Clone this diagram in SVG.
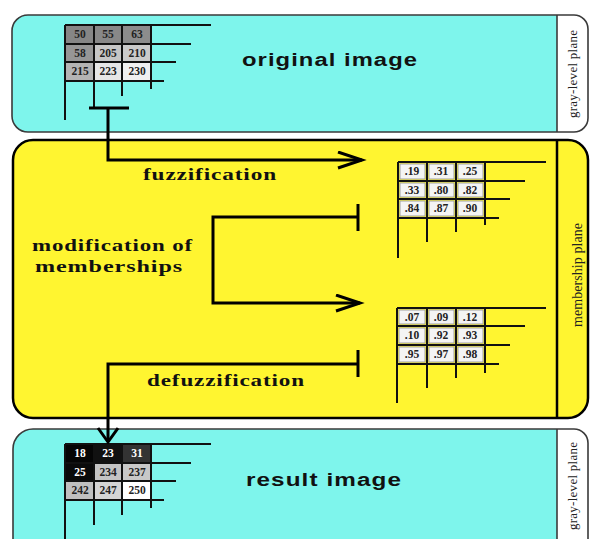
<svg xmlns="http://www.w3.org/2000/svg" width="591" height="539" viewBox="0 0 591 539">
<style>
.cyan{fill:#7ef5ec}
.tab{fill:#ffffff}
.yel{fill:#fff530}
.border{fill:none;stroke:#3a3a3a;stroke-width:1.6}
.gl{stroke:#111;stroke-width:2;fill:none}
.conn{stroke:#000;stroke-width:3;fill:none}
.title{font-family:"Liberation Sans",Arial,sans-serif;font-weight:bold;font-size:18px;letter-spacing:0.8px;fill:#111}
.lab{font-family:"Liberation Serif","Times New Roman",serif;font-weight:bold;font-size:16px;letter-spacing:0.6px;fill:#111}
.side{font-family:"Liberation Serif","Times New Roman",serif;font-size:13px;fill:#222}
.num{font-family:"Liberation Serif","Times New Roman",serif;font-weight:bold;font-size:11.5px;fill:#222;text-anchor:middle}
.numw{font-family:"Liberation Serif","Times New Roman",serif;font-weight:bold;font-size:11.5px;fill:#fff;text-anchor:middle}
.mc{fill:#f4f4f4;stroke:#a0a0a0;stroke-width:1}
</style>
<defs>
<marker id="chev" markerUnits="userSpaceOnUse" markerWidth="30" markerHeight="22" refX="25" refY="9" orient="auto">
<path d="M1,1 L25,9 L1,17" fill="none" stroke="#000" stroke-width="3"/>
</marker>
<marker id="chevS" markerUnits="userSpaceOnUse" markerWidth="24" markerHeight="24" refX="15" refY="11" orient="auto">
<path d="M1,1 L15,11 L1,21" fill="none" stroke="#000" stroke-width="3"/>
</marker>
</defs>

<g id="original-panel">
<path class="cyan" d="M557,15 H28 A16,16 0 0 0 12,31 V116 A16,16 0 0 0 28,132 H557 Z"/>
<path class="tab" d="M557,15 H574 A14,14 0 0 1 588,29 V118 A14,14 0 0 1 574,132 H557 Z"/>
<path class="border" d="M28,15 H574 A14,14 0 0 1 588,29 V118 A14,14 0 0 1 574,132 H28 A16,16 0 0 1 12,116 V31 A16,16 0 0 1 28,15 Z"/>
<line x1="557" y1="15" x2="557" y2="132" stroke="#3a3a3a" stroke-width="1.6"/>
<text class="title" x="242" y="66" textLength="176" lengthAdjust="spacingAndGlyphs">original image</text>
<text class="side" transform="translate(577,118) rotate(-90)" textLength="88" lengthAdjust="spacing">gray-level plane</text>
</g>

<g id="original-grid">
<rect x="65" y="25" width="29" height="19" fill="#868686"/>
<rect x="94" y="25" width="28" height="19" fill="#888888"/>
<rect x="122" y="25" width="29" height="19" fill="#8c8c8c"/>
<rect x="65" y="44" width="29" height="18" fill="#969696"/>
<rect x="94" y="44" width="28" height="18" fill="#c6c6c6"/>
<rect x="122" y="44" width="29" height="18" fill="#cacaca"/>
<rect x="65" y="62" width="29" height="19" fill="#b4b4b4"/>
<rect x="94" y="62" width="28" height="19" fill="#e6e6e6"/>
<rect x="122" y="62" width="29" height="19" fill="#f0f0f0"/>
<text class="num" x="80" y="38">50</text>
<text class="num" x="108" y="38">55</text>
<text class="num" x="137" y="38">63</text>
<text class="num" x="80" y="57">58</text>
<text class="num" x="108" y="57">205</text>
<text class="num" x="137" y="57">210</text>
<text class="num" x="80" y="75">215</text>
<text class="num" x="108" y="75">223</text>
<text class="num" x="137" y="75">230</text>
<path class="gl" d="M65,25 H211 M65,44 H191 M65,62 H176 M65,81 H164 M65,25 V120 M94,25 V108 M122,25 V96 M151,25 V89"/>
</g>

<g id="membership-panel">
<rect class="yel" x="13" y="140" width="575" height="278" rx="20" ry="20" stroke="#000" stroke-width="2.5"/>
<line x1="557" y1="140" x2="557" y2="418" stroke="#000" stroke-width="2.5"/>
<text class="side" style="font-size:14px" transform="translate(582,327) rotate(-90)" textLength="104" lengthAdjust="spacing">membership plane</text>
</g>

<g id="membership-grid-1">
<rect class="mc" x="400" y="164" width="25" height="15"/>
<rect class="mc" x="429" y="164" width="25" height="15"/>
<rect class="mc" x="458" y="164" width="25" height="15"/>
<rect class="mc" x="400" y="183" width="25" height="14"/>
<rect class="mc" x="429" y="183" width="25" height="14"/>
<rect class="mc" x="458" y="183" width="25" height="14"/>
<rect class="mc" x="400" y="201" width="25" height="15"/>
<rect class="mc" x="429" y="201" width="25" height="15"/>
<rect class="mc" x="458" y="201" width="25" height="15"/>
<text class="num" x="412" y="175">.19</text>
<text class="num" x="441" y="175">.31</text>
<text class="num" x="470" y="175">.25</text>
<text class="num" x="412" y="194">.33</text>
<text class="num" x="441" y="194">.80</text>
<text class="num" x="470" y="194">.82</text>
<text class="num" x="412" y="212">.84</text>
<text class="num" x="441" y="212">.87</text>
<text class="num" x="470" y="212">.90</text>
<path class="gl" d="M398,162 H546 M398,181 H525 M398,199 H510 M398,218 H499 M398,162 V258 M427,162 V242 M456,162 V232 M485,162 V225"/>
</g>

<g id="membership-grid-2">
<rect class="mc" x="399" y="310" width="26" height="14"/>
<rect class="mc" x="429" y="310" width="25" height="14"/>
<rect class="mc" x="458" y="310" width="25" height="14"/>
<rect class="mc" x="399" y="328" width="26" height="15"/>
<rect class="mc" x="429" y="328" width="25" height="15"/>
<rect class="mc" x="458" y="328" width="25" height="15"/>
<rect class="mc" x="399" y="347" width="26" height="15"/>
<rect class="mc" x="429" y="347" width="25" height="15"/>
<rect class="mc" x="458" y="347" width="25" height="15"/>
<text class="num" x="412" y="321">.07</text>
<text class="num" x="441" y="321">.09</text>
<text class="num" x="470" y="321">.12</text>
<text class="num" x="412" y="339">.10</text>
<text class="num" x="441" y="339">.92</text>
<text class="num" x="470" y="339">.93</text>
<text class="num" x="412" y="358">.95</text>
<text class="num" x="441" y="358">.97</text>
<text class="num" x="470" y="358">.98</text>
<path class="gl" d="M397,308 H546 M397,326 H525 M397,345 H510 M397,364 H499 M397,308 V403 M427,308 V388 M456,308 V378 M485,308 V373"/>
</g>

<g id="result-panel">
<path class="cyan" d="M13,545 V449 A20,20 0 0 1 33,429 H557 V545 Z"/>
<path class="tab" d="M557,429 H574 A14,14 0 0 1 588,443 V545 H557 Z"/>
<path class="border" d="M13,545 V449 A20,20 0 0 1 33,429 H574 A14,14 0 0 1 588,443 V545"/>
<line x1="557" y1="429" x2="557" y2="545" stroke="#3a3a3a" stroke-width="1.6"/>
<text class="title" x="246" y="486" textLength="156" lengthAdjust="spacingAndGlyphs">result image</text>
<text class="side" transform="translate(577,530) rotate(-90)" textLength="88" lengthAdjust="spacing">gray-level plane</text>
</g>

<g id="result-grid">
<rect x="65" y="444" width="29" height="19" fill="#050505"/>
<rect x="94" y="444" width="28" height="19" fill="#111111"/>
<rect x="122" y="444" width="29" height="19" fill="#333333"/>
<rect x="65" y="463" width="29" height="18" fill="#0a0a0a"/>
<rect x="94" y="463" width="28" height="18" fill="#c4c4c4"/>
<rect x="122" y="463" width="29" height="18" fill="#c8c8c8"/>
<rect x="65" y="481" width="29" height="19" fill="#c0c0c0"/>
<rect x="94" y="481" width="28" height="19" fill="#d4d4d4"/>
<rect x="122" y="481" width="29" height="19" fill="#ffffff"/>
<text class="numw" x="80" y="457">18</text>
<text class="numw" x="108" y="457">23</text>
<text class="numw" x="137" y="457">31</text>
<text class="numw" x="80" y="476">25</text>
<text class="num" x="108" y="476">234</text>
<text class="num" x="137" y="476">237</text>
<text class="num" x="80" y="494">242</text>
<text class="num" x="108" y="494">247</text>
<text class="num" x="137" y="494">250</text>
<path class="gl" d="M65,444 H211 M65,463 H191 M65,481 H176 M65,500 H164 M65,444 V545 M94,444 V525 M122,444 V515 M151,444 V508"/>
</g>

<g id="connectors">
<path class="conn" d="M89,108 H129"/>
<path class="conn" d="M108,108 V160 H362" marker-end="url(#chev)"/>
<path class="conn" d="M358,204 V231"/>
<path class="conn" d="M358,217 H213 V303 H360" marker-end="url(#chev)"/>
<path class="conn" d="M358,350 V377"/>
<path class="conn" d="M358,364 H108 V442" marker-end="url(#chevS)"/>
<text class="lab" x="143" y="180" textLength="134" lengthAdjust="spacingAndGlyphs">fuzzification</text>
<text class="lab" x="32" y="251" textLength="161" lengthAdjust="spacingAndGlyphs">modification of</text>
<text class="lab" x="35" y="272" textLength="148" lengthAdjust="spacingAndGlyphs">memberships</text>
<text class="lab" x="147" y="386" textLength="158" lengthAdjust="spacingAndGlyphs">defuzzification</text>
</g>
</svg>
